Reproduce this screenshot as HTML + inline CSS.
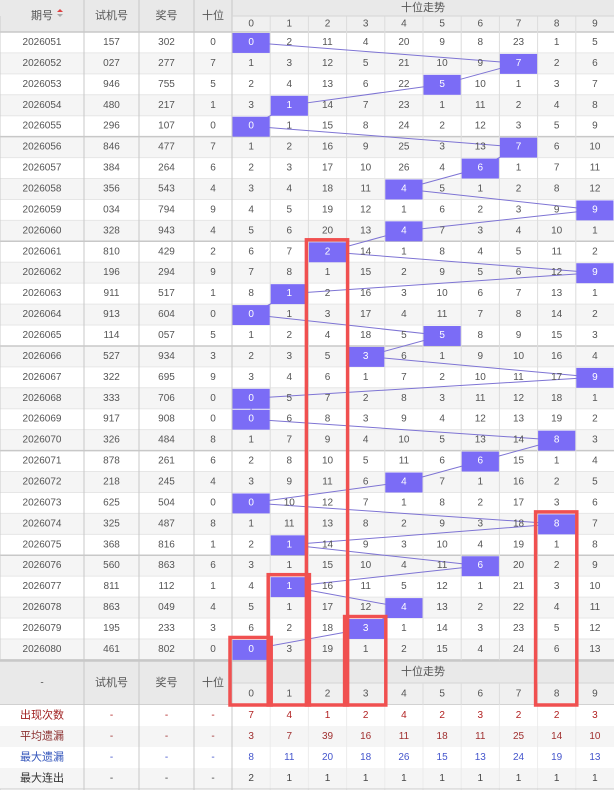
<!DOCTYPE html>
<html><head><meta charset="utf-8">
<style>
html,body{margin:0;padding:0;background:#fff;}
svg{display:block;}
text{font-family:"Liberation Sans","Noto Sans CJK SC",sans-serif;font-size:10px;text-anchor:middle;dominant-baseline:central;}
</style></head>
<body>
<div id="c"></div>
<script>
var data=[
["2026051","157","302",0],["2026052","027","277",7],["2026053","946","755",5],["2026054","480","217",1],["2026055","296","107",0],
["2026056","846","477",7],["2026057","384","264",6],["2026058","356","543",4],["2026059","034","794",9],["2026060","328","943",4],
["2026061","810","429",2],["2026062","196","294",9],["2026063","911","517",1],["2026064","913","604",0],["2026065","114","057",5],
["2026066","527","934",3],["2026067","322","695",9],["2026068","333","706",0],["2026069","917","908",0],["2026070","326","484",8],
["2026071","878","261",6],["2026072","218","245",4],["2026073","625","504",0],["2026074","325","487",8],["2026075","368","816",1],
["2026076","560","863",6],["2026077","811","112",1],["2026078","863","049",4],["2026079","195","233",3],["2026080","461","802",0]];
var init=[0,2,11,4,20,9,8,23,1,5];
var W=614,H=790,RH=20.93,TOP=32,CW=38.2,TX=232;
var colX=[0,84,139,194,232];
var s=[];
function rect(x,y,w,h,f){s.push('<rect x="'+x+'" y="'+y+'" width="'+w+'" height="'+h+'" fill="'+f+'"/>');}
function line(x1,y1,x2,y2,c,w){s.push('<line x1="'+x1+'" y1="'+y1+'" x2="'+x2+'" y2="'+y2+'" stroke="'+c+'" stroke-width="'+(w||1)+'"/>');}
function text(x,y,t,c,fs){s.push('<text x="'+x+'" y="'+y+'" fill="'+(c||'#555')+'"'+(fs?' style="font-size:'+fs+'px"':'')+'>'+t+'</text>');}
function cx(k){return TX+CW*(k+0.5);}
rect(0,0,W,32,'#e9e9e9');
rect(TX,16,W-TX,16,'#f0f0f0');
text(42,16,'期号','#555',11);
s.push('<path d="M57 12 L60 9 L63 12Z" fill="#e04040"/><path d="M57 14 L60 17 L63 14Z" fill="#aaa"/>');
text(111.5,16,'试机号','#555',11);text(166.5,16,'奖号','#555',11);text(213,16,'十位','#555',11);
text(423,8,'十位走势','#555',11);
for(var k=0;k<10;k++)text(cx(k),24,k);
var om=init.slice();var hits=[];
for(var i=0;i<30;i++){
 var y=TOP+i*RH,d=data[i];
 if(i>0){for(var k=0;k<10;k++){om[k]=(k==d[3])?0:om[k]+1;}}
 rect(0,y,W,RH,i%2?'#f5f5f5':'#fff');
 hits.push([cx(d[3]),y+RH/2,d[3],y]);
 d.om=om.slice();
}
for(var i=0;i<=30;i++){var y=TOP+i*RH;line(0,y,W,y,i%5==0?'#c8c8c8':'#e6e6e6',i%5==0?1.5:1);}
line(0,16,0,H,'#ccc');
for(var j=1;j<5;j++)line(colX[j],0,colX[j],H,'#c8c8c8');
for(var k=1;k<10;k++)line(TX+CW*k,16,TX+CW*k,705,'#dcdcdc');
line(TX,16,W,16,'#d5d5d5');
var pts=hits.map(function(h){return h[0].toFixed(1)+','+h[1].toFixed(1);}).join(' ');
s.push('<polyline points="'+pts+'" fill="none" stroke="#7e74d4" stroke-width="1"/>');
for(var i=0;i<30;i++){
 var y=TOP+i*RH,d=data[i];
 text(42,y+RH/2,d[0]);text(111.5,y+RH/2,d[1]);text(166.5,y+RH/2,d[2]);text(213,y+RH/2,d[3]);
 for(var k=0;k<10;k++){
  if(k==d[3]){rect(TX+CW*k+0.5,y+1,CW-1,RH-1,'#7b6cf6');text(cx(k),y+RH/2,k,'#fff');}
  else text(cx(k),y+RH/2,d.om[k]);
 }
}
var BY=661;
rect(0,BY,W,44,'#e9e9e9');rect(TX,BY+22,W-TX,22,'#f0f0f0');
line(0,BY,W,BY,'#c8c8c8',1.5);line(TX,BY+22,W,BY+22,'#d5d5d5');line(0,705,W,705,'#c8c8c8',1.5);
for(var j=1;j<5;j++)line(colX[j],BY,colX[j],H,'#c8c8c8');
for(var k=1;k<10;k++)line(TX+CW*k,BY+22,TX+CW*k,705,'#dcdcdc');
text(42,BY+22,'-');text(111.5,BY+22,'试机号','#555',11);text(166.5,BY+22,'奖号','#555',11);text(213,BY+22,'十位','#555',11);
text(423,BY+11,'十位走势','#555',11);
for(var k=0;k<10;k++)text(cx(k),BY+33,k);
var st=[["出现次数","#a02020","#b22222",[7,4,1,2,4,2,3,2,2,3]],
["平均遗漏","#8b3030","#a03030",[3,7,39,16,11,18,11,25,14,10]],
["最大遗漏","#3355bb","#4455cc",[8,11,20,18,26,15,13,24,19,13]],
["最大连出","#333","#444",[2,1,1,1,1,1,1,1,1,1]]];
for(var r=0;r<4;r++){
 var y=705+r*21;
 rect(0,y,W,21,r%2?'#f5f5f5':'#fff');
 text(42,y+10.5,st[r][0],st[r][1],11);
 text(111.5,y+10.5,'-',st[r][2]);text(166.5,y+10.5,'-',st[r][2]);text(213,y+10.5,'-',st[r][2]);
 for(var k=0;k<10;k++)text(cx(k),y+10.5,st[r][3][k],st[r][2]);
}
for(var j=1;j<5;j++)line(colX[j],705,colX[j],H,'#c8c8c8');
for(var k=1;k<10;k++)line(TX+CW*k,705,TX+CW*k,H,'#ececec');
line(0,789,W,789,'#ccc');
var boxes=[[2,10],[0,29],[1,26],[3,28],[8,23]];
boxes.forEach(function(b){
 var x=TX+CW*b[0]-2,y=TOP+b[1]*RH-1.5;
 s.push('<rect x="'+x+'" y="'+y+'" width="'+(CW+3)+'" height="'+(705-y)+'" fill="none" stroke="#f05050" stroke-width="3.5"/>');
});
document.getElementById('c').innerHTML='<svg width="'+W+'" height="'+H+'" xmlns="http://www.w3.org/2000/svg">'+s.join('')+'</svg>';
</script>
</body></html>
